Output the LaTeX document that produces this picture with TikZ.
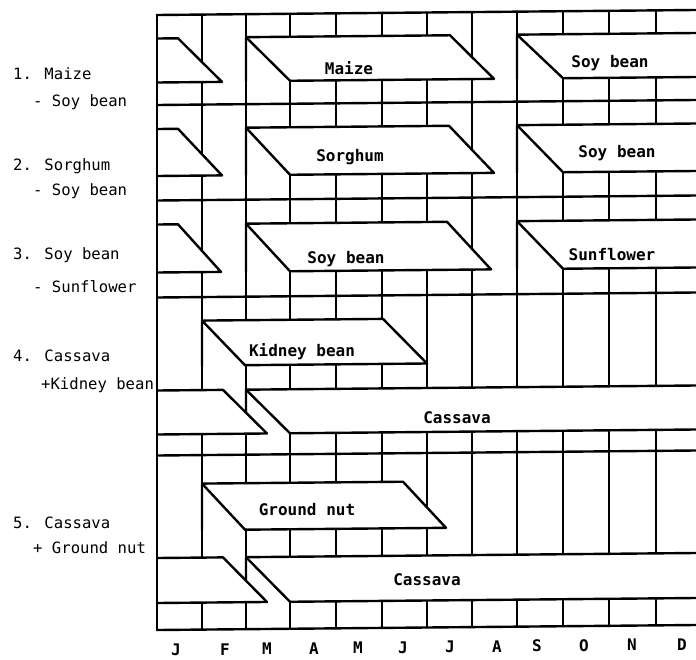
\documentclass[tikz,border=0pt]{standalone}
\usepackage{fontspec}
\newfontfamily\dmfont{DejaVu Sans Mono}
\begin{document}
\begin{tikzpicture}[x=0.5pt,y=-0.5pt,line width=1.2pt,line join=round,line cap=round,
  gridline/.style={line width=1.2pt},
  barbox/.style={fill=white,draw=black,line width=1.2pt},
  barlabel/.style={font=\dmfont\bfseries\fontsize{8}{10}\selectfont,inner sep=0pt},
  sidelabel/.style={font=\dmfont\fontsize{7.8}{10}\selectfont,inner sep=0pt,anchor=west},
  monthlabel/.style={font=\dmfont\bfseries\fontsize{8}{10}\selectfont,inner sep=0pt}]
\useasboundingbox (0,0) rectangle (696,659);
\begin{scope}[cm={1,0.0093,0,1,(0pt,-0.73pt)}]
\begin{scope}
\clip (140,0) rectangle (696,659);
% grid
\foreach \x in {157,202,246,290,336,382,427,472,517,563,609,656,702}
  \draw[gridline] (\x,15) -- (\x,630);
\foreach \y in {15,105,200.5,297.5,455.5,630}
  \draw[gridline] (157,\y) -- (702,\y);
% row 1
\filldraw[barbox] (246,82) -- (246,38) -- (450,38) -- (494,82) -- (290,82);
\draw (246,38) -- (290,82);
\filldraw[barbox] (517,82) -- (517,38) -- (760,38) -- (806,82) -- (563,82);
\draw (517,38) -- (563,82);
\filldraw[barbox] (157,38.5) -- (178,38.5) -- (222,82.5) -- (157,82.5);
% row 2
\filldraw[barbox] (246,176) -- (246,128.5) -- (449,128.5) -- (494,176) -- (290,176);
\draw (246,128.5) -- (290,176);
\filldraw[barbox] (517,176) -- (517,128.5) -- (760,128.5) -- (806,176) -- (563,176);
\draw (517,128.5) -- (563,176);
\filldraw[barbox] (157,129) -- (178,129) -- (222,176) -- (157,176);
% row 3
\filldraw[barbox] (246,272.5) -- (246,224.5) -- (447,224.5) -- (491,272.5) -- (290,272.5);
\draw (246,224.5) -- (290,272.5);
\filldraw[barbox] (517,272.5) -- (517,224.5) -- (760,224.5) -- (806,272.5) -- (563,272.5);
\draw (517,224.5) -- (563,272.5);
\filldraw[barbox] (157,224.5) -- (178,224.5) -- (221,272.5) -- (157,272.5);
% row 4
\filldraw[barbox] (202,366) -- (202,321) -- (383,321) -- (427,366) -- (245,366);
\draw (202,321) -- (245,366);
\filldraw[barbox] (246,434.5) -- (246,390.5) -- (760,390.5) -- (804,434.5) -- (290,434.5);
\draw (246,390.5) -- (290,434.5);
\filldraw[barbox] (157,390.5) -- (223,390.5) -- (267,434.5) -- (157,434.5);
% row 5
\filldraw[barbox] (202,530.5) -- (202,484) -- (403,484) -- (446,530.5) -- (245,530.5);
\draw (202,484) -- (245,530.5);
\filldraw[barbox] (246,603) -- (246,558) -- (760,558) -- (804,603) -- (290,603);
\draw (246,558) -- (290,603);
\filldraw[barbox] (157,558) -- (223,558) -- (267,603) -- (157,603);
% border
\draw[gridline] (157,15) -- (157,630);
\end{scope}
\end{scope}
% bar labels
\node[barlabel] (t1a) at (349,68) {Maize};
\node[barlabel] (t1b) at (610,63) {Soy bean};
\node[barlabel] (t2a) at (350,157) {Sorghum};
\node[barlabel] (t2b) at (617,153) {Soy bean};
\node[barlabel] (t3a) at (346,259) {Soy bean};
\node[barlabel] (t3b) at (612,255) {Sunflower};
\node[barlabel] (t4a) at (302,352) {Kidney bean};
\node[barlabel] (t4b) at (457,418) {Cassava};
\node[barlabel] (t5a) at (307,510) {Ground nut};
\node[barlabel] (t5b) at (427,580) {Cassava};
% side labels
\node[sidelabel] (s1a) at (12,74) {1. Maize};
\node[sidelabel] (s1b) at (32,102) {- Soy bean};
\node[sidelabel] (s2a) at (12,166) {2. Sorghum};
\node[sidelabel] (s2b) at (32,191) {- Soy bean};
\node[sidelabel] (s3a) at (12,255) {3. Soy bean};
\node[sidelabel] (s3b) at (32,287) {- Sunflower};
\node[sidelabel] (s4a) at (12,356) {4. Cassava};
\node[sidelabel] (s4b) at (40,385) {+Kidney bean};
\node[sidelabel] (s5a) at (12,523) {5. Cassava};
\node[sidelabel] (s5b) at (32,548) {+ Ground nut};
% months
\node[monthlabel] (mJ1) at (176,650) {J};
\node[monthlabel] (mF) at (225,650) {F};
\node[monthlabel] (mM1) at (267,649) {M};
\node[monthlabel] (mA1) at (314,649) {A};
\node[monthlabel] (mM2) at (358,648) {M};
\node[monthlabel] (mJ2) at (403,648) {J};
\node[monthlabel] (mJ3) at (450,647) {J};
\node[monthlabel] (mA2) at (497,647) {A};
\node[monthlabel] (mS) at (537,646) {S};
\node[monthlabel] (mO) at (584,646) {O};
\node[monthlabel] (mN) at (632,645) {N};
\node[monthlabel] (mD) at (682,645) {D};
\end{tikzpicture}
\end{document}
